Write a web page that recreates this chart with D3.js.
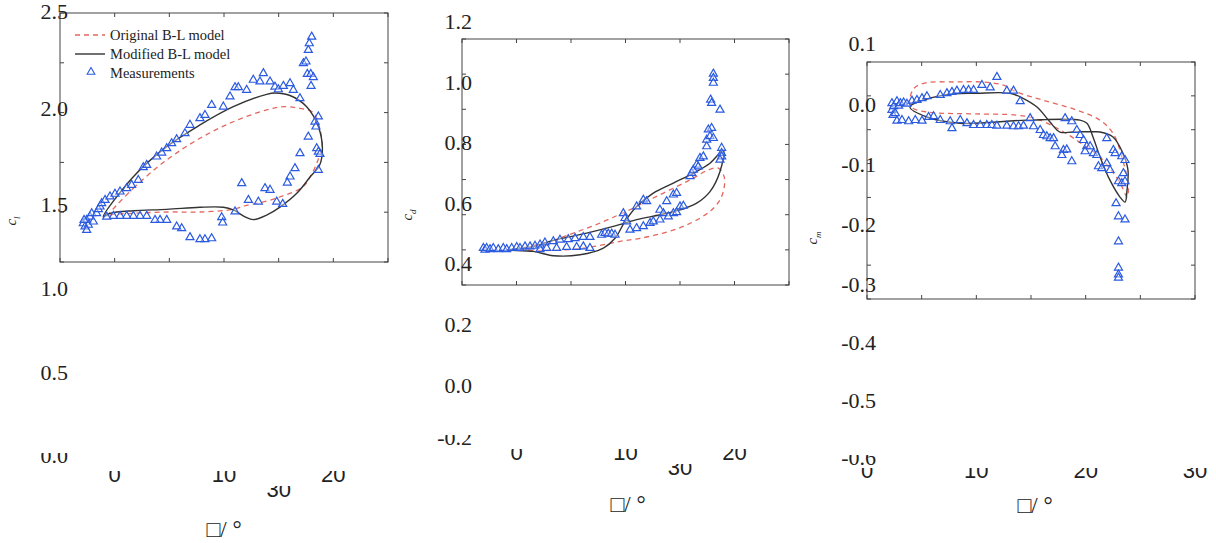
<!DOCTYPE html>
<html>
<head>
<meta charset="utf-8">
<title>Dynamic stall loops</title>
<script src="https://d3js.org/d3.v7.min.js"></script>
<style>
    body { margin: 0; background: #fff; }
    svg text { font-family: "Liberation Serif", "Times New Roman", serif; fill: #222; }
</style>
</head>
<body>
<div id="chart"></div>
<script>
    // ---------- data (alpha in deg, coefficient) ----------
    var alphaTicks = [0, 5, 10, 15, 20, 25, 30];

    var clOriginal = [[4.27,1.428],[6.71,1.578],[9.76,1.727],[12.80,1.841],[15.85,1.928],[18.90,1.990],[20.43,2.007],[21.95,1.998],[23.17,1.976],[23.72,1.902],[23.96,1.797],[23.60,1.727],[23.00,1.650],[22.20,1.585],[20.10,1.532],[18.90,1.510],[17.07,1.488],[15.85,1.467],[12.80,1.453],[9.76,1.453],[6.71,1.446],[4.57,1.437]];
    var clModified = [[3.96,1.428],[6.71,1.639],[9.76,1.797],[12.80,1.911],[15.85,2.007],[18.90,2.072],[19.70,2.079],[21.04,2.066],[22.56,2.007],[23.63,1.902],[24.00,1.790],[23.75,1.700],[22.87,1.637],[21.68,1.553],[20.12,1.479],[18.90,1.437],[17.68,1.413],[16.92,1.428],[15.85,1.464],[14.94,1.478],[12.80,1.478],[9.76,1.467],[6.71,1.460],[4.57,1.446]];
    var clMeasured = [[2.13,1.393],[2.29,1.376],[2.44,1.411],[2.59,1.385],[2.74,1.428],[2.90,1.446],[3.05,1.402],[3.35,1.446],[3.51,1.467],[3.66,1.481],[3.81,1.499],[2.44,1.358],[2.20,1.411],
        [4.12,1.516],[4.57,1.534],[5.03,1.548],[5.49,1.560],[6.10,1.578],[6.55,1.595],[7.16,1.621],[7.62,1.688],[7.93,1.700],[8.84,1.744],[9.30,1.765],[9.76,1.788],[10.21,1.814],[10.67,1.835],[11.43,1.867],[11.89,1.911],[12.80,1.946],[13.26,1.963],[13.87,2.016],[14.94,2.007],[15.55,2.060],[16.01,2.109],[16.31,2.109],[17.07,2.095],[17.68,2.148],[18.29,2.139],[18.60,2.183],[19.21,2.139],[19.66,2.112],[19.97,2.098],[20.43,2.116],[21.04,2.130],[21.34,2.095],[21.95,2.051],
        [22.26,2.235],[22.50,2.244],[22.71,2.305],[22.80,2.340],[23.02,2.375],[22.62,2.179],[22.93,2.179],[23.17,2.162],[22.96,2.116],
        [23.63,1.955],[23.32,1.928],[23.41,1.902],[22.71,1.849],[23.48,1.788],[23.63,1.770],[23.78,1.758],[23.63,1.674],[21.95,1.762],[21.49,1.683],[21.04,1.639],[20.79,1.607],[16.62,1.604],[18.75,1.578],[19.21,1.569],[17.23,1.516],[18.14,1.507],[19.82,1.507],[20.37,1.495],[16.01,1.455],[14.79,1.425],[14.88,1.397],
        [13.87,1.314],[13.26,1.309],[12.80,1.309],[11.89,1.320],[11.13,1.367],[10.67,1.376],[9.76,1.411],[9.15,1.411],[8.69,1.411],[7.93,1.432],[7.32,1.432],[6.71,1.432],[6.10,1.432],[5.49,1.432],[4.88,1.432],[4.27,1.428]];

    var cdOriginal = [[5.32,0.451],[8.38,0.480],[10.21,0.504],[12.05,0.528],[13.88,0.556],[15.72,0.586],[17.55,0.619],[19.39,0.651],[21.22,0.684],[22.60,0.711],[23.52,0.717],[24.04,0.690],[24.04,0.651],[23.67,0.613],[22.90,0.580],[21.83,0.553],[20.30,0.526],[18.47,0.504],[16.33,0.487],[14.50,0.477],[12.35,0.462],[10.21,0.451],[7.77,0.447]];
    var cdModified = [[4.10,0.449],[6.24,0.458],[8.38,0.480],[11.44,0.504],[13.88,0.526],[16.02,0.548],[18.16,0.564],[20.00,0.580],[21.53,0.602],[22.75,0.640],[23.67,0.706],[23.98,0.775],[22.75,0.733],[21.22,0.700],[19.39,0.668],[17.55,0.635],[16.02,0.591],[14.95,0.542],[14.04,0.487],[12.97,0.455],[10.83,0.433],[8.38,0.430],[6.54,0.444]];
    var cdMeasured = [[1.96,0.455],[2.11,0.449],[2.26,0.455],[2.57,0.451],[2.87,0.455],[3.33,0.451],[3.79,0.455],[4.10,0.451],[4.56,0.455],[5.02,0.458],[5.32,0.455],[5.78,0.460],[6.24,0.460],[6.70,0.462],[7.16,0.466],[7.61,0.473],[8.38,0.477],[8.99,0.482],[9.75,0.484],[10.37,0.487],[11.13,0.491],[11.74,0.491],
        [7.16,0.451],[7.77,0.455],[8.68,0.455],[9.60,0.458],[10.52,0.458],[11.13,0.460],[11.74,0.455],[12.81,0.498],[13.12,0.504],[13.42,0.502],[13.73,0.502],[14.04,0.498],
        [14.80,0.569],[14.95,0.553],[15.11,0.542],[16.02,0.591],[16.64,0.613],[16.94,0.608],[18.16,0.580],[18.78,0.608],[19.39,0.630],[19.69,0.635],[18.47,0.569],[19.39,0.569],[19.69,0.572],[20.00,0.591],[20.31,0.593],
        [15.41,0.515],[16.02,0.520],[16.64,0.526],[17.25,0.537],[17.55,0.542],[18.16,0.548],[18.93,0.558],
        [20.92,0.690],[21.07,0.701],[21.22,0.711],[21.53,0.728],[21.68,0.722],[21.83,0.750],[22.14,0.755],[22.45,0.788],[22.45,0.810],[22.75,0.821],[23.06,0.815],[22.90,0.848],[22.60,0.843],
        [22.81,0.941],[22.90,0.930],[23.67,0.908],[23.06,1.026],[23.06,1.012],[23.06,0.996],[23.82,0.783],[23.82,0.766],[23.82,0.755],[23.67,0.744]];

    var cmOriginal = [[3.90,-0.002],[4.30,0.022],[5.50,0.031],[8.00,0.032],[10.50,0.032],[12.50,0.027],[13.70,0.016],[16.10,0.003],[19.20,-0.013],[21.30,-0.029],[22.50,-0.050],[23.40,-0.093],[23.90,-0.136],[23.80,-0.152],[23.10,-0.128],[21.30,-0.088],[19.50,-0.065],[17.70,-0.045],[15.50,-0.027],[13.70,-0.021],[10.00,-0.019],[7.00,-0.018],[5.50,-0.016],[4.20,-0.010]];
    var cmModified = [[3.93,-0.008],[6.95,0.011],[10.06,0.014],[13.08,0.014],[14.27,0.006],[15.55,-0.008],[16.74,-0.032],[17.65,-0.048],[18.84,-0.048],[21.32,-0.048],[22.50,-0.056],[23.41,-0.082],[23.87,-0.109],[23.78,-0.141],[23.60,-0.160],[23.14,-0.152],[22.22,-0.125],[21.32,-0.088],[20.67,-0.056],[20.12,-0.034],[19.48,-0.029],[14.63,-0.029],[8.51,-0.034],[5.49,-0.024]];
    var cmMeasured = [[2.28,-0.002],[2.28,-0.013],[2.38,-0.021],[2.44,-0.007],[2.59,-0.018],[2.74,0.001],[2.89,-0.006],[3.05,-0.002],[3.35,-0.001],[3.65,-0.003],[4.11,0.002],[4.57,0.003],[5.03,0.006],[5.48,0.009],
        [2.74,-0.030],[3.20,-0.029],[3.81,-0.031],[4.42,-0.029],[5.03,-0.030],[5.63,-0.024],[6.09,-0.023],
        [6.70,0.011],[7.31,0.014],[7.77,0.016],[8.22,0.018],[8.83,0.019],[9.29,0.019],[9.75,0.019],[10.51,0.027],[11.27,0.023],[11.88,0.040],[12.79,0.018],[13.40,0.018],[14.01,0.001],
        [6.70,-0.029],[7.61,-0.031],[7.77,-0.042],[8.53,-0.029],[9.14,-0.034],[9.75,-0.037],[10.36,-0.037],[10.96,-0.037],[11.42,-0.037],[11.88,-0.038],[12.79,-0.038],[13.40,-0.039],[13.86,-0.039],[14.31,-0.038],[14.92,-0.026],[15.23,-0.039],
        [15.84,-0.045],[16.14,-0.053],[16.45,-0.055],[16.75,-0.058],[17.06,-0.058],[17.21,-0.071],[17.97,-0.077],[17.82,-0.085],[18.27,-0.076],[18.73,-0.095],[18.12,-0.026],[18.73,-0.031],[19.19,-0.045],[19.49,-0.053],[19.80,-0.061],[20.10,-0.071],[19.95,-0.079],[20.41,-0.071],[20.71,-0.082],[21.02,-0.085],[21.17,-0.103],[21.47,-0.106],[21.93,-0.098],[22.23,-0.109],[22.54,-0.077],[22.69,-0.082],[23.30,-0.087],[23.60,-0.093],[23.45,-0.114],[23.00,-0.127],[23.30,-0.130],[23.60,-0.127],[21.93,-0.058],
        [22.78,-0.162],[23.00,-0.183],[23.60,-0.188],[23.00,-0.223],[23.00,-0.265],[23.00,-0.276],[23.00,-0.281]];

    // tick labels, as they appear in the figure
    var clYLabels = ["2.5", "2.0", "1.5", "1.0", "0.5", "0.0"];
    var cdYLabels = ["1.2", "1.0", "0.8", "0.6", "0.4", "0.2", "0.0", "-0.2"];
    var cmYLabels = ["0.1", "0.0", "-0.1", "-0.2", "-0.3", "-0.4", "-0.5", "-0.6"];
    var xLabelsShifted = ["0", "10", "30", "20"];
    var xLabelsPlain = ["0", "10", "20", "30"];
    var xTitle = "\u25A1/ \u00B0";

    // ---------- layout ----------
    var panels = [
        { left: 60, right: 388, top: 13, bottom: 262, yDomain: [1.19, 2.5], yTickN: 5,
          original: clOriginal, modified: clModified, measured: clMeasured,
          yLabels: clYLabels, yLabelDom: [2.5, 1.5, 0.0], yLabelPos: [12, 205, 456], yLabelX: 68,
          xLabels: xLabelsShifted, xShift: 5, xBase: 482, xClip: 471,
          titleX: 224, titleY: 537, ylab: ["c", "l"], ylabX: 16, ylabY: 221, legend: true },
        { left: 462, right: 789, top: 39, bottom: 285, yDomain: [0.334, 1.14], yTickN: 7,
          original: cdOriginal, modified: cdModified, measured: cdMeasured,
          yLabels: cdYLabels, yLabelDom: [1.2, 0.4, 0.0, -0.2], yLabelPos: [22, 264, 386, 438], yLabelX: 472,
          xLabels: xLabelsShifted, xShift: 5, xBase: 460, xClip: 449,
          titleX: 628, titleY: 512, ylab: ["c", "d"], ylabX: 412, ylabY: 215, legend: false },
        { left: 867, right: 1195, top: 62, bottom: 299, yDomain: [-0.315, 0.064], yTickN: 7,
          original: cmOriginal, modified: cmModified, measured: cmMeasured,
          yLabels: cmYLabels, yLabelDom: [0.1, -0.3, -0.6], yLabelPos: [44, 285, 458], yLabelX: 876,
          xLabels: xLabelsPlain, xShift: 0, xBase: 478, xClip: 468,
          titleX: 1035, titleY: 513, ylab: ["c", "m"], ylabX: 817, ylabY: 238, legend: false }
    ];

    var svg = d3.select("#chart").append("svg").attr("width", 1216).attr("height", 543);
    var defs = svg.append("defs");
    var clipId = 0;

    // text whose top part is cut off, like in the source scan
    function cutText(g, str, x, y, clipTop, anchor) {
        var id = "cut" + (clipId++);
        defs.append("clipPath").attr("id", id).append("rect")
            .attr("x", x - 60).attr("y", clipTop).attr("width", 120).attr("height", 40);
        return g.append("text").attr("x", x).attr("y", y)
            .attr("text-anchor", anchor).attr("clip-path", "url(#" + id + ")").text(str);
    }

    function drawPanel(p) {
        var g = svg.append("g");
        var x = d3.scaleLinear().domain([0, 30]).range([p.left, p.right]);
        var y = d3.scaleLinear().domain(p.yDomain).range([p.bottom, p.top]);

        // frame + inward ticks on all sides
        g.append("rect").attr("x", p.left).attr("y", p.top)
            .attr("width", p.right - p.left).attr("height", p.bottom - p.top)
            .attr("fill", "none").attr("stroke", "#444").attr("stroke-width", 1);
        alphaTicks.forEach(function(a) {
            g.append("line").attr("x1", x(a)).attr("x2", x(a)).attr("y1", p.bottom).attr("y2", p.bottom - 4).attr("stroke", "#444");
            g.append("line").attr("x1", x(a)).attr("x2", x(a)).attr("y1", p.top).attr("y2", p.top + 4).attr("stroke", "#444");
        });
        d3.range(p.yTickN + 1).map(function(i) {
            return p.yDomain[0] + i * (p.yDomain[1] - p.yDomain[0]) / p.yTickN;
        }).forEach(function(v) {
            g.append("line").attr("x1", p.left).attr("x2", p.left + 4).attr("y1", y(v)).attr("y2", y(v)).attr("stroke", "#444");
            g.append("line").attr("x1", p.right).attr("x2", p.right - 4).attr("y1", y(v)).attr("y2", y(v)).attr("stroke", "#444");
        });

        var loop = d3.line()
            .x(function(d) { return x(d[0]); })
            .y(function(d) { return y(d[1]); })
            .curve(d3.curveCatmullRomClosed.alpha(0.5));

        g.append("path").datum(p.original).attr("d", loop)
            .attr("fill", "none").attr("stroke", "#e4675f").attr("stroke-width", 1.3)
            .attr("stroke-dasharray", "5,4");
        g.append("path").datum(p.modified).attr("d", loop)
            .attr("fill", "none").attr("stroke", "#333").attr("stroke-width", 1.4);

        var tri = d3.symbol().type(d3.symbolTriangle).size(28);
        g.selectAll(".m").data(p.measured).enter().append("path")
            .attr("d", tri)
            .attr("transform", function(d) { return "translate(" + x(d[0]) + "," + y(d[1]) + ")"; })
            .attr("fill", "#fff").attr("fill-opacity", 0.4)
            .attr("stroke", "#2a5ae0").attr("stroke-width", 1.2);

        // y tick labels (positions as printed)
        var ly = d3.scaleLinear().domain(p.yLabelDom).range(p.yLabelPos);
        p.yLabels.forEach(function(t, i) {
            var cy = ly(+t);
            if (i == p.yLabels.length - 1) {
                cutText(g, t, p.yLabelX, cy + 7, cy - 3, "end").style("font-size", "22px");
            } else {
                g.append("text").attr("x", p.yLabelX).attr("y", cy).attr("dy", "0.33em")
                    .attr("text-anchor", "end").style("font-size", "22px").text(t);
            }
        });

        // x tick labels
        var lx = d3.scaleLinear().domain([0, 20]).range([x(p.xShift), x(p.xShift + 20)]);
        p.xLabels.forEach(function(t) {
            var v = +t, dy = 0;
            if (p.xShift && v == 30) { v = 15; dy = 15; }
            cutText(g, t, lx(v), p.xBase + dy, p.xClip + dy, "middle")
                .style("font-family", "'Liberation Sans', Arial, sans-serif").style("font-size", "22px");
        });

        g.append("text").attr("x", p.titleX).attr("y", p.titleY).attr("text-anchor", "middle")
            .style("font-size", "23px").text(xTitle);

        var yl = g.append("text").attr("transform", "translate(" + p.ylabX + "," + p.ylabY + ") rotate(-90)")
            .attr("text-anchor", "middle").style("font-size", "15px").style("font-style", "italic");
        yl.append("tspan").text(p.ylab[0]);
        yl.append("tspan").attr("dy", 4).style("font-size", "9px").text(p.ylab[1]);

        if (p.legend) {
            var lg = g.append("g");
            lg.append("line").attr("x1", 75).attr("x2", 105).attr("y1", 35).attr("y2", 35)
                .attr("stroke", "#e4675f").attr("stroke-width", 1.3).attr("stroke-dasharray", "5,4");
            lg.append("text").attr("x", 110).attr("y", 40).style("font-size", "14.5px").text("Original B-L model");
            lg.append("line").attr("x1", 75).attr("x2", 105).attr("y1", 54).attr("y2", 54)
                .attr("stroke", "#333").attr("stroke-width", 1.4);
            lg.append("text").attr("x", 110).attr("y", 59).style("font-size", "14.5px").text("Modified B-L model");
            lg.append("path").attr("d", d3.symbol().type(d3.symbolTriangle).size(26))
                .attr("transform", "translate(91,72)").attr("fill", "none")
                .attr("stroke", "#2a5ae0").attr("stroke-width", 1.1);
            lg.append("text").attr("x", 110).attr("y", 78).style("font-size", "14.5px").text("Measurements");
        }
    }

    panels.forEach(drawPanel);
</script>
</body>
</html>
